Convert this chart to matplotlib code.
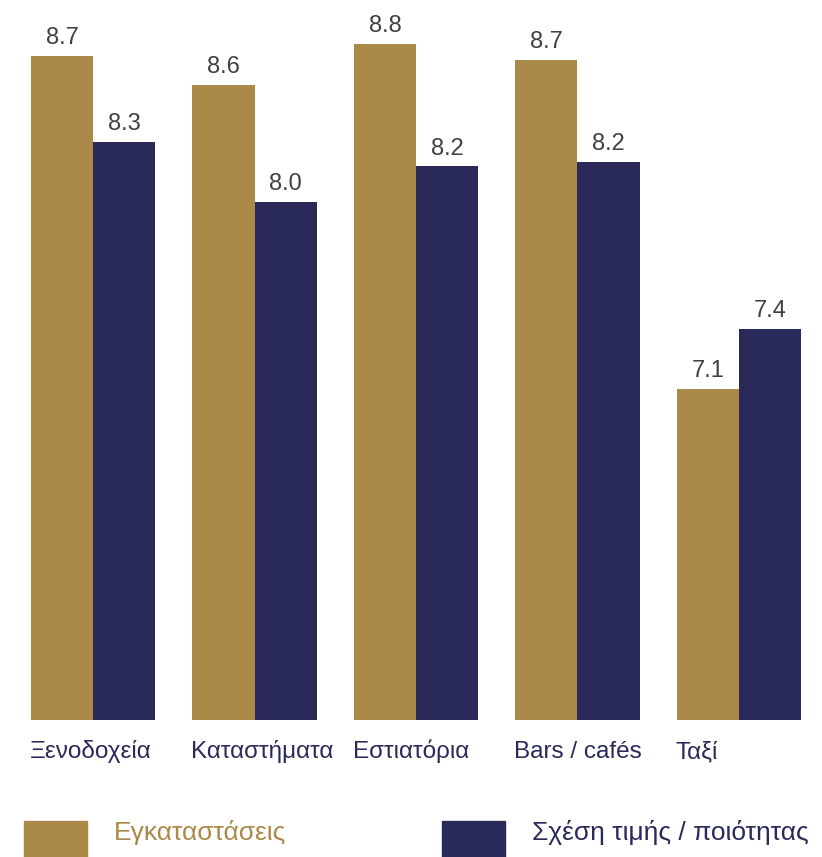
import numpy as np
import matplotlib.pyplot as plt
from matplotlib.patches import Rectangle

plt.rcParams['font.family'] = ['Liberation Sans', 'DejaVu Sans']

# Datos
categorias = ['Ξενοδοχεία', 'Καταστήματα', 'Εστιατόρια', 'Bars / cafés', 'Ταξί']
instalaciones = [8.70, 8.56, 8.76, 8.68, 7.10]
precio_calidad = [8.29, 8.00, 8.17, 8.19, 7.39]
series = ['Εγκαταστάσεις', 'Σχέση τιμής / ποιότητας']

oro = '#AB8948'
azul = '#29295A'

fig = plt.figure(figsize=(8.22, 8.57), dpi=100)
ax = fig.add_axes([0, 137 / 857, 1, 720 / 857])

x = np.arange(len(categorias))
w = 0.384
b1 = ax.bar(x - w / 2, np.array(instalaciones) - 5.51, w, bottom=5.51, color=oro)
b2 = ax.bar(x + w / 2, np.array(precio_calidad) - 5.51, w, bottom=5.51, color=azul)

for barras, vals in [(b1, instalaciones), (b2, precio_calidad)]:
    for r, v in zip(barras, vals):
        ax.annotate(f'{v:.1f}', (r.get_x() + r.get_width() / 2, v),
                    xytext=(0, 5), textcoords='offset points',
                    ha='center', va='bottom', fontsize=17, color='#404040')

ax.set_xlim(-0.576, 4.514)
ax.set_ylim(5.51, 8.97)
ax.axis('off')

# etiquetas de categoría
for xi, cat in zip(x, categorias):
    ax.annotate(cat, (xi - w, 5.51), xytext=(-1, -27.4), textcoords='offset points',
                ha='left', va='baseline', fontsize=17.5, color=azul)

# leyenda
fig.add_artist(Rectangle((24 / 822, 0), 63 / 822, 36 / 857,
                         transform=fig.transFigure, color=oro))
fig.add_artist(Rectangle((442 / 822, 0), 63 / 822, 36 / 857,
                         transform=fig.transFigure, color=azul))
fig.text(114 / 822, 1 - 840 / 857, series[0], fontsize=19, color=oro,
         ha='left', va='baseline')
fig.text(532 / 822, 1 - 840 / 857, series[1], fontsize=19, color=azul,
         ha='left', va='baseline')

fig.savefig('out.png', dpi=100)
